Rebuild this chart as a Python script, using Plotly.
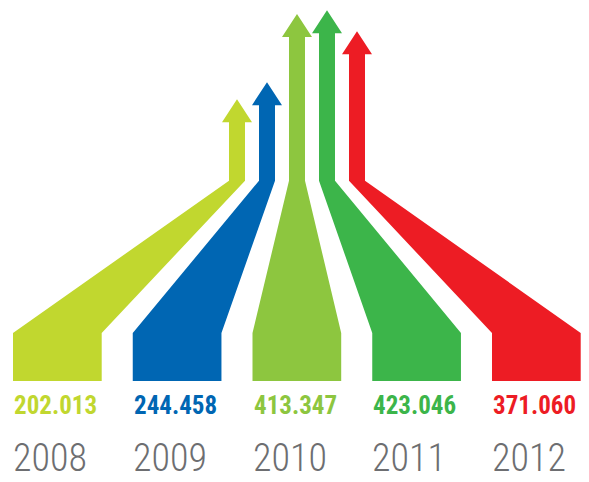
import plotly.graph_objects as go

# ---- data ----
years = ["2008", "2009", "2010", "2011", "2012"]
values = [202.013, 244.458, 413.347, 423.046, 371.060]
colors = ["#C1D72F", "#0066B3", "#8DC63F", "#3CB54A", "#ED1C24"]
value_labels = ["202.013", "244.458", "413.347", "423.046", "371.060"]

# ---- layout geometry (pixel-like x, value-scaled y) ----
W, H = 589, 482
BASE_PX = 180.7            # pixel row of shaft base (value 0)
PX_PER_UNIT = 0.403
K = 1.0 / PX_PER_UNIT      # units per pixel


def py(p):
    """pixel row -> y data units"""
    return (BASE_PX - p) * K


FAM = "Roboto Condensed, DejaVu Sans Condensed, DejaVu Sans, sans-serif"

fig = go.Figure()

rect_w = 88.7
rect_step = 119.75
rect_left0 = 13
shaft_c0 = 237
shaft_step = 30
shaft_hw = 8
head_hw = 15
head_h = 23 * K
y_rect_top = py(333)
y_rect_bot = py(381)

for i, (yr, v, c) in enumerate(zip(years, values, colors)):
    rl = rect_left0 + rect_step * i
    rr = rl + rect_w
    cx = shaft_c0 + shaft_step * i
    sl, sr = cx - shaft_hw, cx + shaft_hw
    hb = v - head_h
    xs = [rl, rl, sl, sl, cx - head_hw, cx, cx + head_hw, sr, sr, rr, rr, rl]
    ys = [y_rect_bot, y_rect_top, 0, hb, hb, v, hb, hb, 0, y_rect_top, y_rect_bot, y_rect_bot]
    fig.add_trace(go.Scatter(x=xs, y=ys, fill="toself", fillcolor=c, mode="lines",
                             line=dict(width=0, color=c), hoverinfo="skip", showlegend=False))
    fig.add_annotation(x=rl - 1, y=py(405.5),
                       text='<span style="font-stretch:condensed">' + value_labels[i] + '</span>',
                       showarrow=False, xanchor="left", yanchor="middle",
                       font=dict(family=FAM, size=25, color=c, weight="bold"))
    fig.add_annotation(x=rl - 2, y=py(457.5),
                       text='<span style="font-stretch:condensed">' + yr + '</span>',
                       showarrow=False, xanchor="left", yanchor="middle",
                       font=dict(family=FAM, size=38, color="#6D6E71", weight=300))

fig.update_layout(
    width=W, height=H,
    margin=dict(l=0, r=0, t=0, b=0),
    paper_bgcolor="white", plot_bgcolor="white",
    xaxis=dict(range=[0, W], visible=False, fixedrange=True),
    yaxis=dict(range=[py(H), py(0)], visible=False, fixedrange=True),
)

fig.write_html("out.html", config={"displayModeBar": False},
               post_script="document.body.style.margin='0';")
